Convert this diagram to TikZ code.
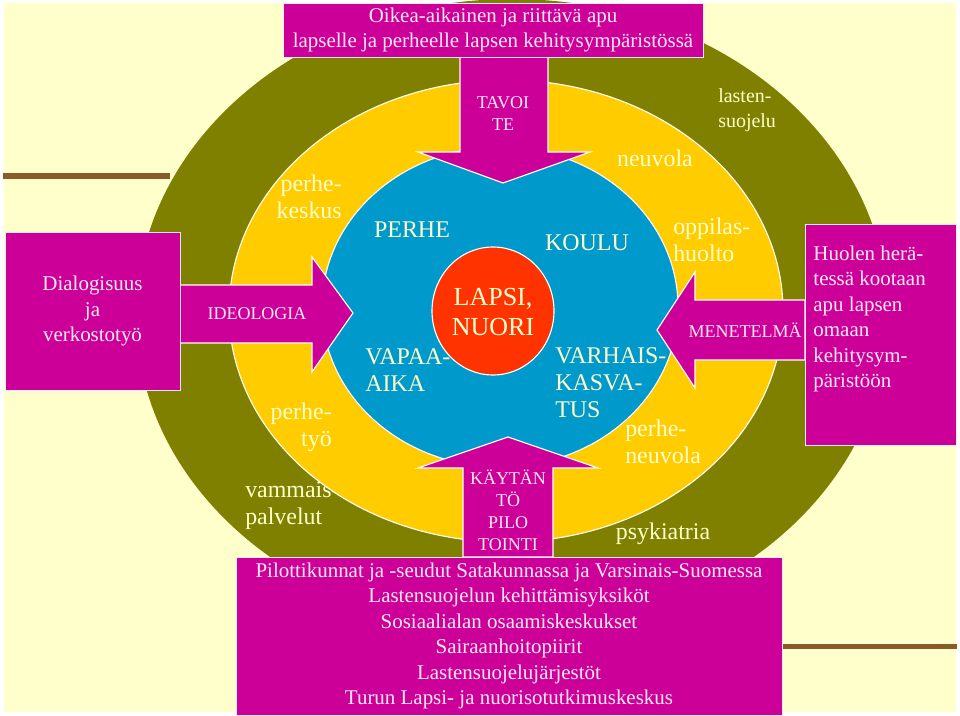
\documentclass[tikz,border=0pt]{standalone}
\usepackage{fontspec}
\setmainfont{Liberation Serif}
\usepackage{tikz}
\definecolor{cream}{HTML}{FFFFCC}
\definecolor{ringolive}{HTML}{808000}
\definecolor{ringyellow}{HTML}{FFCC00}
\definecolor{ringblue}{HTML}{0099CC}
\definecolor{corered}{HTML}{FF3300}
\definecolor{pinkbox}{HTML}{CC0099}
\definecolor{pinktext}{HTML}{FFE8F6}
\definecolor{stripebrown}{HTML}{8B5A2B}
\newcommand{\ringfont}{\fontsize{17}{19.2}\selectfont}
\newcommand{\smallringfont}{\fontsize{14.2}{17.8}\selectfont}
\newcommand{\corefont}{\fontsize{18.5}{21.3}\selectfont}
\newcommand{\boxfont}{\fontsize{14.9}{18.1}\selectfont}
\newcommand{\arrowfont}{\fontsize{12.8}{15.6}\selectfont}

\begin{document}
\begin{tikzpicture}[x=0.025cm, y=-0.025cm,
    ring/.style={draw=white, line width=0.8pt},
    ringlabel/.style={text=cream, font=\ringfont, inner sep=0pt},
    infobox/.style={rectangle, fill=pinkbox, draw=pinktext, line width=0.6pt, text=pinktext, font=\boxfont, align=center, inner sep=0pt},
    pointer/.style={fill=pinkbox, draw=white, line width=0.8pt, line join=miter},
    arrowlabel/.style={text=pinktext, font=\arrowfont, align=center, inner sep=0pt}
]
    \useasboundingbox (0,0) rectangle (960,716);
    \fill[white] (0,0) rectangle (960,716);
    \fill[cream] (4,3) rectangle (956,712);
    \fill[stripebrown] (3,173) rectangle (170,179);
    \fill[stripebrown] (783,644) rectangle (957,649);

    % rings
    \fill[ringolive] (512,315) ellipse (376 and 316);
    \node[ringlabel, anchor=west, align=left] (vammais) at (245,506) {vammais-\\palvelut};
    \filldraw[ring, fill=ringyellow] (506,311) ellipse (277 and 231);
    \filldraw[ring, fill=ringblue] (500,307) ellipse (178 and 160);
    \filldraw[ring, fill=corered] (493,311) ellipse (61 and 64);

    % arrows
    \filldraw[pointer] (460,57) -- (548,57) -- (548,152) -- (590,152) -- (503,183) -- (418,152) -- (460,152) -- cycle;
    \filldraw[pointer] (463,557) -- (463,468) -- (418,468) -- (508,437) -- (598,468) -- (553,468) -- (553,557) -- cycle;
    \filldraw[pointer] (180,285) -- (312,285) -- (312,257) -- (353,313) -- (312,372) -- (312,343) -- (180,343) -- cycle;
    \filldraw[pointer] (805,300) -- (695,300) -- (695,272) -- (657,330) -- (695,388) -- (695,360) -- (805,360) -- cycle;

    % boxes
    \node[infobox, minimum width=10.5cm, minimum height=1.35cm] (goal) at (493,30)
        {Oikea-aikainen ja riittävä apu\\lapselle ja perheelle lapsen kehitysympäristössä};
    \node[infobox, minimum width=4.375cm, minimum height=3.95cm] (dialog) at (92.5,311)
        {Dialogisuus\\ja\\verkostotyö};
    \node[infobox, minimum width=3.775cm, minimum height=5.525cm] (concern) at (880.5,334.5) {};
    \node[infobox, draw=none, fill=none, anchor=west, align=left] (concerntext) at (813,319)
        {Huolen herä-\\tessä kootaan\\apu lapsen\\omaan\\kehitysym-\\päristöön};
    \node[infobox, minimum width=13.65cm, minimum height=3.95cm] (pilots) at (509,636)
        {Pilottikunnat ja -seudut Satakunnassa ja Varsinais-Suomessa\\
         Lastensuojelun kehittämisyksiköt\\Sosiaalialan osaamiskeskukset\\
         Sairaanhoitopiirit\\Lastensuojelujärjestöt\\Turun Lapsi- ja nuorisotutkimuskeskus};

    % arrow texts
    \node[arrowlabel] (goalarrow) at (503,114) {TAVOI\\TE};
    \node[arrowlabel] (practice) at (508,510) {KÄYTÄN\\TÖ\\PILO\\TOINTI};
    \node[arrowlabel] (ideology) at (257,314) {IDEOLOGIA};
    \node[arrowlabel] (method) at (745,330) {MENETELMÄ};

    % ring texts
    \node[ringlabel, anchor=east, align=right] (famcentre) at (342,197) {perhe-\\keskus};
    \node[ringlabel, anchor=east, align=right] (famwork) at (332,427) {perhe-\\työ};
    \node[ringlabel, font=\smallringfont, anchor=west, align=left] (childprot) at (718,110) {lasten-\\suojelu};
    \node[ringlabel] (clinic) at (655,158) {neuvola};
    \node[ringlabel, anchor=west, align=left] (pupilcare) at (673,240) {oppilas-\\huolto};
    \node[ringlabel, anchor=west, align=left] (famclinic) at (625,442) {perhe-\\neuvola};
    \node[ringlabel] (psych) at (663,534) {psykiatria};
    \node[ringlabel] (family) at (412,230) {PERHE};
    \node[ringlabel] (school) at (587,243) {KOULU};
    \node[ringlabel, anchor=west, align=left] (leisure) at (365,370) {VAPAA-\\AIKA};
    \node[ringlabel, anchor=west, align=left] (earlyed) at (555,383) {VARHAIS-\\KASVA-\\TUS};
    \node[ringlabel, font=\corefont, align=center] (child) at (493,312) {LAPSI,\\NUORI};
\end{tikzpicture}
\end{document}
